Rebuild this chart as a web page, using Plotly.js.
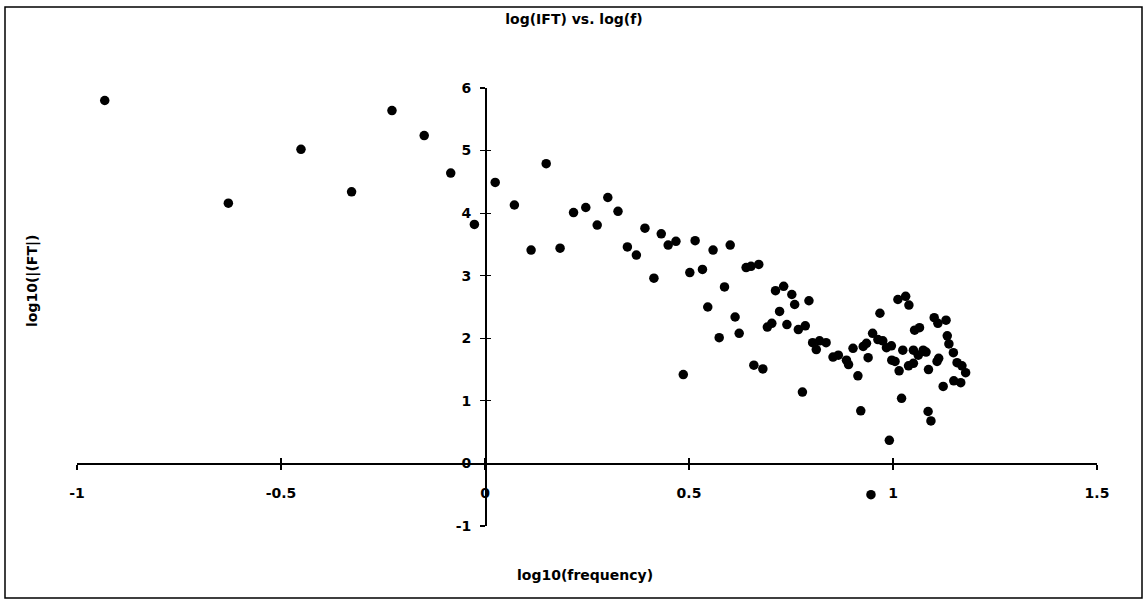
<!DOCTYPE html>
<html>
<head>
<meta charset="utf-8">
<script src="https://cdn.plot.ly/plotly-3.0.1.min.js"></script>
<style>html,body{margin:0;padding:0;background:#fff;}#chart{width:1148px;height:605px;}</style>
</head>
<body>
<div id="chart"></div>
<script>
// log10(frequency) values
const logFreq = [
  -0.932, -0.629, -0.451, -0.327, -0.228, -0.149, -0.084, -0.026,
  0.025, 0.072, 0.113, 0.150, 0.184, 0.217, 0.247, 0.275, 0.301, 0.326,
  0.349, 0.371, 0.392, 0.414, 0.432, 0.449, 0.468, 0.486, 0.502, 0.515,
  0.533, 0.546, 0.559, 0.574, 0.587, 0.601, 0.613, 0.623, 0.640, 0.652,
  0.659, 0.671, 0.681, 0.692, 0.703, 0.712, 0.722, 0.732, 0.740, 0.752,
  0.759, 0.768, 0.778, 0.785, 0.794, 0.803, 0.812, 0.820, 0.836, 0.853,
  0.866, 0.886, 0.891, 0.902, 0.914, 0.921, 0.927, 0.935, 0.939, 0.946,
  0.950, 0.963, 0.968, 0.975, 0.984, 0.991, 0.996, 0.997, 1.005, 1.012,
  1.015, 1.021, 1.024, 1.031, 1.038, 1.039, 1.050, 1.050, 1.053, 1.062,
  1.065, 1.074, 1.081, 1.086, 1.087, 1.093, 1.101, 1.108, 1.110, 1.112,
  1.123, 1.130, 1.133, 1.137, 1.148, 1.149, 1.157, 1.166, 1.169, 1.178
];
// log10(|FT|) values
const logFT = [
  5.80, 4.16, 5.02, 4.34, 5.64, 5.24, 4.64, 3.82,
  4.49, 4.13, 3.41, 4.79, 3.44, 4.01, 4.09, 3.81, 4.25, 4.03,
  3.46, 3.33, 3.76, 2.96, 3.67, 3.49, 3.55, 1.42, 3.05, 3.56,
  3.10, 2.50, 3.41, 2.01, 2.82, 3.49, 2.34, 2.08, 3.13, 3.15,
  1.57, 3.18, 1.51, 2.18, 2.24, 2.76, 2.43, 2.83, 2.22, 2.70,
  2.54, 2.14, 1.14, 2.20, 2.60, 1.93, 1.82, 1.96, 1.93, 1.70,
  1.73, 1.65, 1.58, 1.84, 1.40, 0.84, 1.87, 1.92, 1.69, -0.50,
  2.08, 1.98, 2.40, 1.96, 1.85, 0.37, 1.88, 1.65, 1.63, 2.62,
  1.48, 1.04, 1.81, 2.67, 1.56, 2.53, 1.81, 1.60, 2.13, 1.73,
  2.17, 1.81, 1.78, 0.83, 1.50, 0.68, 2.33, 1.63, 2.24, 1.68,
  1.23, 2.29, 2.04, 1.91, 1.77, 1.32, 1.61, 1.29, 1.56, 1.45
];
const xTickVals = [-1, -0.5, 0, 0.5, 1, 1.5];
const xTickText = ['-1', '-0.5', '0', '0.5', '1', '1.5'];
const yTickVals = [-1, 0, 1, 2, 3, 4, 5, 6];
const yTickText = ['-1', '0', '1', '2', '3', '4', '5', '6'];
const xRange = [-1, 1.5];
const yRange = [-1, 6];

const FONT = 'DejaVu Sans, Liberation Sans, Arial, sans-serif';
const boldFont = (s) => ({family: FONT, size: s, color: '#000', weight: 'bold'});

const trace = {
  x: logFreq, y: logFT, type: 'scatter', mode: 'markers',
  marker: {color: '#000', size: 9.5, line: {width: 0}},
  cliponaxis: false, hoverinfo: 'x+y'
};
// empty helper trace so the inner-tick overlay axes are drawn
const tickHelper = {x: [], y: [], type: 'scatter', mode: 'markers', xaxis: 'x2', yaxis: 'y2', hoverinfo: 'skip'};

const xPos = (0 - yRange[0]) / (yRange[1] - yRange[0]);
const yPos = (0 - xRange[0]) / (xRange[1] - xRange[0]);

const layout = {
  width: 1148, height: 605,
  paper_bgcolor: '#fff', plot_bgcolor: 'rgba(0,0,0,0)',
  margin: {l: 77, r: 51, t: 88, b: 79},
  showlegend: false,
  title: {text: 'log(IFT) vs. log(f)', font: boldFont(14), x: 0.5, xanchor: 'center', y: 1 - 19/605, yanchor: 'middle'},
  xaxis: {
    range: xRange, anchor: 'free', position: xPos,
    showgrid: false, zeroline: false, showline: true, linecolor: '#000', linewidth: 1.2,
    tickmode: 'array', tickvals: xTickVals, ticktext: xTickText,
    ticks: 'outside', ticklen: 5, tickwidth: 1.2, tickcolor: '#000',
    tickfont: boldFont(14), ticklabelstandoff: 12
  },
  yaxis: {
    range: yRange, anchor: 'free', position: yPos,
    showgrid: false, zeroline: false, showline: true, linecolor: '#000', linewidth: 1.5,
    tickmode: 'array', tickvals: yTickVals, ticktext: yTickText,
    ticks: 'outside', ticklen: 5, tickwidth: 1.2, tickcolor: '#000',
    tickfont: boldFont(14), ticklabelstandoff: 6
  },
  xaxis2: {
    range: xRange, overlaying: 'x', anchor: 'free', position: xPos,
    showgrid: false, zeroline: false, showline: false, showticklabels: false,
    tickmode: 'array', tickvals: xTickVals,
    ticks: 'inside', ticklen: 5, tickwidth: 1.2, tickcolor: '#000'
  },
  yaxis2: {
    range: yRange, overlaying: 'y', anchor: 'free', position: yPos,
    showgrid: false, zeroline: false, showline: false, showticklabels: false,
    tickmode: 'array', tickvals: yTickVals,
    ticks: 'inside', ticklen: 5, tickwidth: 1.2, tickcolor: '#000'
  },
  annotations: [
    {text: 'log10(frequency)', xref: 'paper', yref: 'paper', x: (585 - 77) / 1020, y: (526 - 575) / 438,
     xanchor: 'center', yanchor: 'middle', showarrow: false, font: boldFont(14)},
    {text: 'log10(|(FT|)', xref: 'paper', yref: 'paper', x: (32 - 77) / 1020, y: (526 - 281) / 438,
     xanchor: 'center', yanchor: 'middle', textangle: -90, showarrow: false, font: boldFont(14)}
  ],
  shapes: [
    {type: 'rect', xref: 'paper', yref: 'paper',
     x0: (5 - 77) / 1020, x1: (1142 - 77) / 1020, y0: (526 - 598) / 438, y1: (526 - 7) / 438,
     line: {color: '#000', width: 1.5}, fillcolor: 'rgba(0,0,0,0)'}
  ]
};

Plotly.newPlot('chart', [trace, tickHelper], layout, {displayModeBar: false, staticPlot: true});
</script>
</body>
</html>
